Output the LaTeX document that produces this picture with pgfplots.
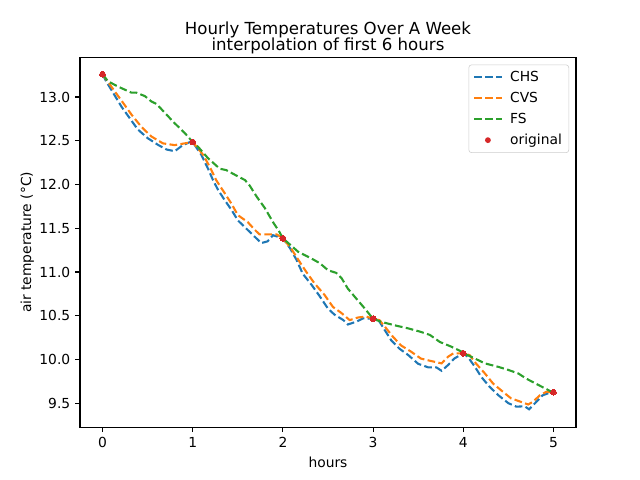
\documentclass[border=0pt]{standalone}
\usepackage{fontspec}
\setmainfont{DejaVu Sans}
\usepackage{pgfplots}
\pgfplotsset{compat=1.18}
\usepackage{pgfplotstable}

\definecolor{tabblue}{HTML}{1F77B4}
\definecolor{taborange}{HTML}{FF7F0E}
\definecolor{tabgreen}{HTML}{2CA02C}
\definecolor{tabred}{HTML}{D62728}

\pgfplotsset{
  dashkey/.style={legend image code/.code={%
    \draw[##1] (0bp,0bp) -- (20bp,0bp);
    \path[draw=none, fill=none, mark=none] (0bp,0bp) -- (24bp,0bp);}},
}

% CHS interpolation
\pgfplotstableread{
x y
0 13.26
0.04 13.18
0.116 13.05
0.21 12.89
0.30 12.76
0.39 12.63
0.50 12.53
0.62 12.45
0.71 12.40
0.80 12.38
0.89 12.45
0.97 12.485
1.0 12.485
1.095 12.34
1.17 12.18
1.225 12.05
1.28 11.94
1.355 11.82
1.43 11.71
1.50 11.59
1.59 11.50
1.69 11.40
1.76 11.33
1.83 11.35
1.89 11.42
2.0 11.385
2.08 11.27
2.15 11.14
2.22 10.98
2.32 10.85
2.41 10.72
2.50 10.58
2.575 10.51
2.67 10.45
2.72 10.40
2.81 10.43
2.89 10.47
3.0 10.465
3.06 10.45
3.13 10.335
3.20 10.22
3.29 10.125
3.39 10.05
3.50 9.95
3.61 9.91
3.70 9.91
3.76 9.87
3.83 9.935
3.90 10.01
4.0 10.07
4.05 10.03
4.13 9.915
4.20 9.80
4.29 9.69
4.39 9.59
4.50 9.50
4.59 9.46
4.68 9.465
4.73 9.43
4.81 9.515
4.88 9.59
4.96 9.62
5.0 9.625
}\chs

% CVS interpolation
\pgfplotstableread{
x y
0 13.26
0.135 13.065
0.23 12.93
0.32 12.80
0.43 12.66
0.54 12.55
0.67 12.47
0.80 12.45
0.91 12.47
1.0 12.485
1.115 12.34
1.19 12.20
1.26 12.05
1.355 11.90
1.43 11.78
1.50 11.65
1.61 11.57
1.69 11.48
1.74 11.43
1.83 11.43
1.93 11.43
2.0 11.385
2.09 11.27
2.17 11.14
2.26 11.00
2.35 10.87
2.46 10.74
2.555 10.60
2.65 10.53
2.74 10.45
2.835 10.48
2.925 10.49
3.0 10.465
3.07 10.45
3.15 10.35
3.22 10.26
3.31 10.16
3.42 10.09
3.53 10.01
3.63 9.985
3.76 9.955
3.83 10.03
3.89 10.07
4.0 10.07
4.07 10.05
4.14 9.955
4.24 9.84
4.33 9.725
4.44 9.63
4.53 9.555
4.64 9.515
4.72 9.485
4.77 9.515
4.85 9.59
4.92 9.63
5.0 9.625
}\cvs

% FS interpolation
\pgfplotstableread{
x y
0 13.26
0.06 13.18
0.17 13.12
0.32 13.05
0.375 13.05
0.47 13.01
0.54 12.95
0.60 12.92
0.69 12.82
0.80 12.70
0.91 12.59
1.0 12.485
1.06 12.43
1.17 12.30
1.30 12.18
1.37 12.165
1.47 12.11
1.58 12.05
1.63 11.99
1.71 11.86
1.80 11.73
1.89 11.57
1.96 11.46
2.0 11.385
2.06 11.33
2.17 11.23
2.315 11.155
2.41 11.10
2.50 11.02
2.59 10.99
2.65 10.93
2.72 10.81
2.81 10.70
2.91 10.58
2.98 10.49
3.0 10.465
3.09 10.43
3.24 10.39
3.39 10.355
3.53 10.315
3.63 10.28
3.74 10.20
3.87 10.145
3.98 10.09
4.0 10.07
4.09 10.03
4.24 9.955
4.39 9.915
4.50 9.88
4.61 9.84
4.70 9.78
4.83 9.71
4.98 9.63
5.0 9.625
}\fs

% original hourly readings
\pgfplotstableread{
x y
0 13.26
1 12.485
2 11.385
3 10.465
4 10.07
5 9.625
}\orig

\begin{document}
\begin{tikzpicture}
\path[use as bounding box] (-0.8in,-0.528in) rectangle (5.6in,4.272in);
\begin{axis}[
  at={(0,0)}, anchor=south west,
  scale only axis,
  width=4.96in, height=3.696in,
  xmin=-0.25, xmax=5.25,
  ymin=9.2255, ymax=13.4506,
  xtick={0,1,2,3,4,5},
  ytick={9.5,10,10.5,11,11.5,12,12.5,13},
  yticklabel style={/pgf/number format/.cd, fixed, fixed zerofill, precision=1},
  /pgf/number format/assume math mode=true,
  tick align=outside,
  xtick pos=bottom, ytick pos=left,
  major tick length=3.5bp,
  every tick/.style={black, line width=0.8bp},
  axis line style={line width=0.8bp},
  tick label style={font=\fontsize{10}{12}\selectfont},
  label style={font=\fontsize{10}{12}\selectfont},
  xlabel={hours},
  ylabel={air temperature (°C)},
  ylabel shift=-3bp,
  title={Hourly Temperatures Over A Week\\interpolation of first 6 hours},
  title style={align=center, font=\fontsize{12}{12}\selectfont, yshift=-7bp},
  legend cell align=left,
  legend style={at={(1,1)}, anchor=north east, xshift=-5bp, yshift=-5bp,
    draw=black!20, rounded corners=2bp, font=\fontsize{10}{12}\selectfont,
    row sep=2.2bp, inner xsep=3bp, inner ysep=2.5bp},
  every axis plot/.append style={line width=1.5bp},
]
\addplot[tabblue, dash pattern=on 5.55bp off 2.4bp, dashkey] table {\chs};
\addplot[taborange, dash pattern=on 5.55bp off 2.4bp, dashkey] table {\cvs};
\addplot[tabgreen, dash pattern=on 5.55bp off 2.4bp, dashkey] table {\fs};
\addplot[only marks, mark=*, mark size=2.1bp, tabred,
  mark options={solid, draw=tabred, fill=tabred, line width=0pt},
  legend image code/.code={\fill[tabred, draw=none] (10bp,0bp) circle[radius=2.1bp];
    \path[draw=none, fill=none, mark=none] (0bp,0bp) -- (24bp,0bp);}] table {\orig};
\legend{CHS, CVS, FS, original}
\end{axis}
\end{tikzpicture}
\end{document}
